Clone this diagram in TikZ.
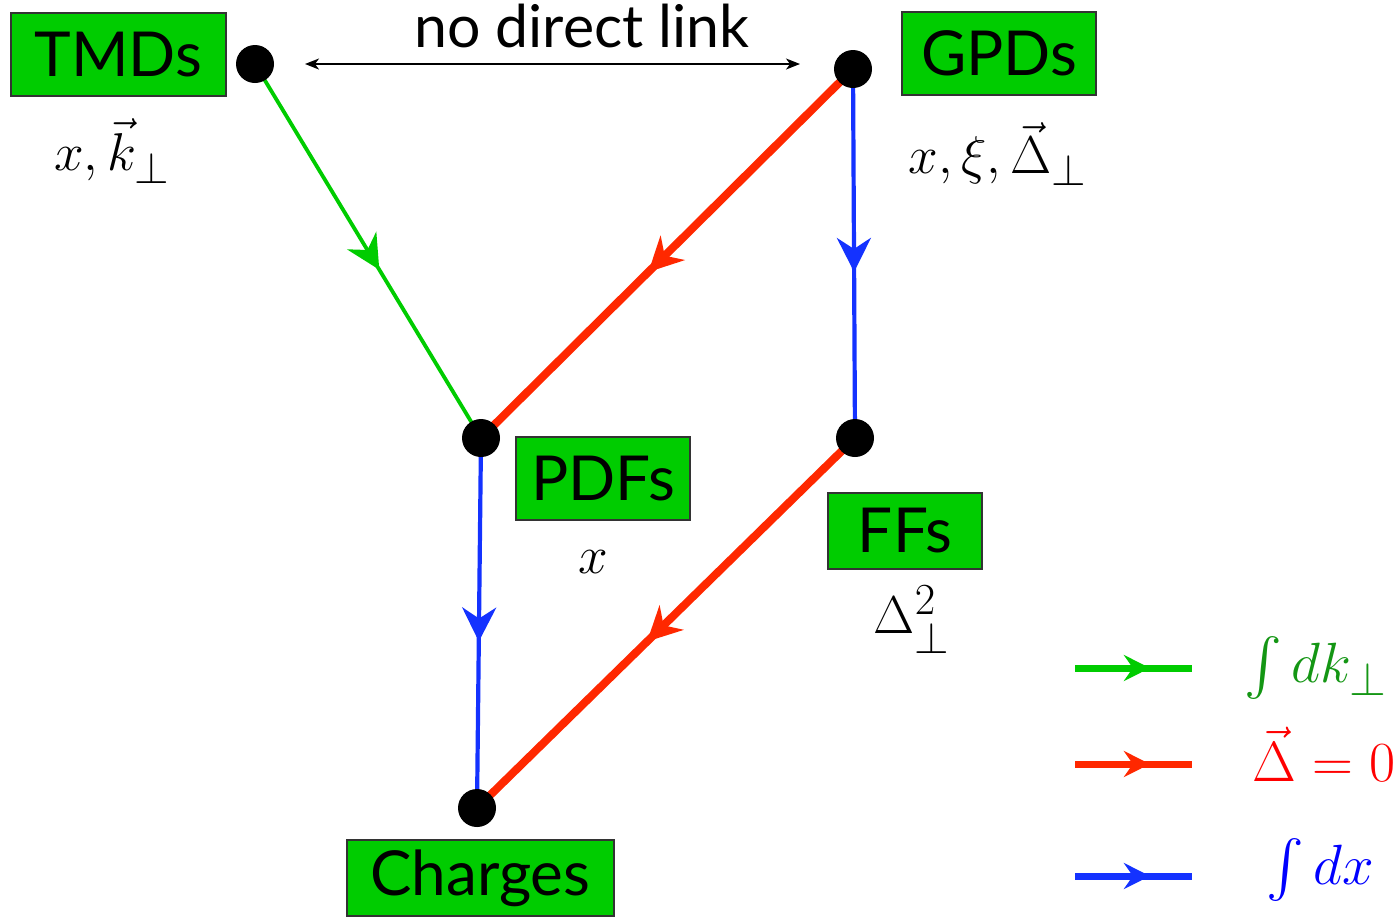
\documentclass[tikz,border=0pt]{standalone}
\usepackage{amsmath}
\usepackage[no-math]{fontspec}
\newfontfamily\labfont{Lato}
\usetikzlibrary{arrows.meta,decorations.markings}
\definecolor{boxgreen}{RGB}{0,204,0}
\definecolor{lgreen}{RGB}{0,204,0}
\definecolor{tgreen}{RGB}{20,150,20}
\definecolor{lred}{RGB}{255,40,0}
\definecolor{tred}{RGB}{255,0,0}
\definecolor{lblue}{RGB}{20,50,255}
\definecolor{tblue}{RGB}{0,0,255}
\newcommand\mlab[1]{\scalebox{1.07}{$#1$}}
\newcommand\llab[1]{\scalebox{1.14}{$#1$}}
\tikzset{
  labbox/.style={draw=black!80, line width=0.6pt, fill=boxgreen, inner sep=0pt,
    font=\labfont\fontsize{31}{36}\selectfont},
  dot/.style={circle, fill=black, minimum size=19pt, inner sep=0pt},
  mathlab/.style={inner sep=0pt, font=\fontsize{24.88}{30}\selectfont},
  leglab/.style={inner sep=0pt, font=\fontsize{24.88}{30}\selectfont},
  midarrow/.style={postaction={decorate}, decoration={markings,
    mark=at position #1 with {\arrow{Stealth[length=17pt,width=17pt,inset=5.5pt]}}}},
  gline/.style={lgreen, line width=1.9pt, midarrow=0.55},
  rline/.style={lred, line width=4pt, midarrow=0.55},
  bline/.style={lblue, line width=2.1pt, midarrow=0.55},
  legarrow/.style={postaction={decorate}, decoration={markings,
    mark=at position 0.64 with {\arrow{Stealth[length=13pt,width=13pt,inset=4.5pt]}}}},
}
\begin{document}
\begin{tikzpicture}[x=0.5pt,y=-0.5pt]
\useasboundingbox (0,0) rectangle (1400,923);
% label boxes
\node[labbox, minimum width=107.5pt, minimum height=41.5pt] (tmd) at (118.5,54.5) {TMDs};
\node[labbox, minimum width=97pt, minimum height=41.5pt] (gpd) at (999,53.5) {GPDs};
\node[labbox, minimum width=87pt, minimum height=41.5pt] (pdf) at (603,478.5) {PDFs};
\node[labbox, minimum width=77pt, minimum height=38pt] (ff) at (905,531) {FFs};
\node[labbox, minimum width=133.5pt, minimum height=38pt] (chg) at (480.5,878) {Charges};
% variable labels
\node[mathlab] (tmdv) at (112,151) {\mlab{x,\vec{k}_\perp}};
\node[mathlab] (gpdv) at (998,154) {\mlab{x,\xi,\vec{\Delta}_\perp}};
\node[mathlab] (pdfv) at (593,562) {\mlab{x}};
\node[mathlab] (ffv) at (912,620) {\mlab{\Delta_\perp^2}};
% no direct link
\node[inner sep=0pt, font=\labfont\fontsize{29.5}{34}\selectfont] (ndl) at (582,26) {no direct link};
\coordinate (nl1) at (305,64);
\coordinate (nl2) at (800,64);
\draw[line width=0.8pt, {Stealth[length=7pt,width=5.5pt,inset=2pt]}-{Stealth[length=7pt,width=5.5pt,inset=2pt]}] (nl1) -- (nl2);
% dots
\coordinate (tc) at (255,64);
\coordinate (gc) at (853,69);
\coordinate (pc) at (481,438);
\coordinate (fc) at (855,438);
\coordinate (cc) at (477,808);
% connectors
\draw[gline] (tc) -- (pc);
\draw[rline] (gc) -- (pc);
\draw[bline] (gc) -- (fc);
\draw[rline] (fc) -- (cc);
\draw[bline] (pc) -- (cc);
\node[dot] (t) at (tc) {};
\node[dot] (g) at (gc) {};
\node[dot] (p) at (pc) {};
\node[dot] (f) at (fc) {};
\node[dot] (c) at (cc) {};
% legend
\coordinate (l1a) at (1075,668); \coordinate (l1b) at (1192,668);
\coordinate (l2a) at (1075,764); \coordinate (l2b) at (1192,764);
\coordinate (l3a) at (1075,876); \coordinate (l3b) at (1192,876);
\draw[lgreen, line width=3.5pt, legarrow] (l1a) -- (l1b);
\draw[lred, line width=3.5pt, legarrow] (l2a) -- (l2b);
\draw[lblue, line width=3.5pt, legarrow] (l3a) -- (l3b);
\node[leglab, text=tgreen] (lg1) at (1316,668) {\llab{\int dk_\perp}};
\node[leglab, text=tred] (lg2) at (1324,754) {\llab{\vec{\Delta}=0}};
\node[leglab, text=tblue] (lg3) at (1320,870) {\llab{\int dx}};
\end{tikzpicture}
\end{document}
